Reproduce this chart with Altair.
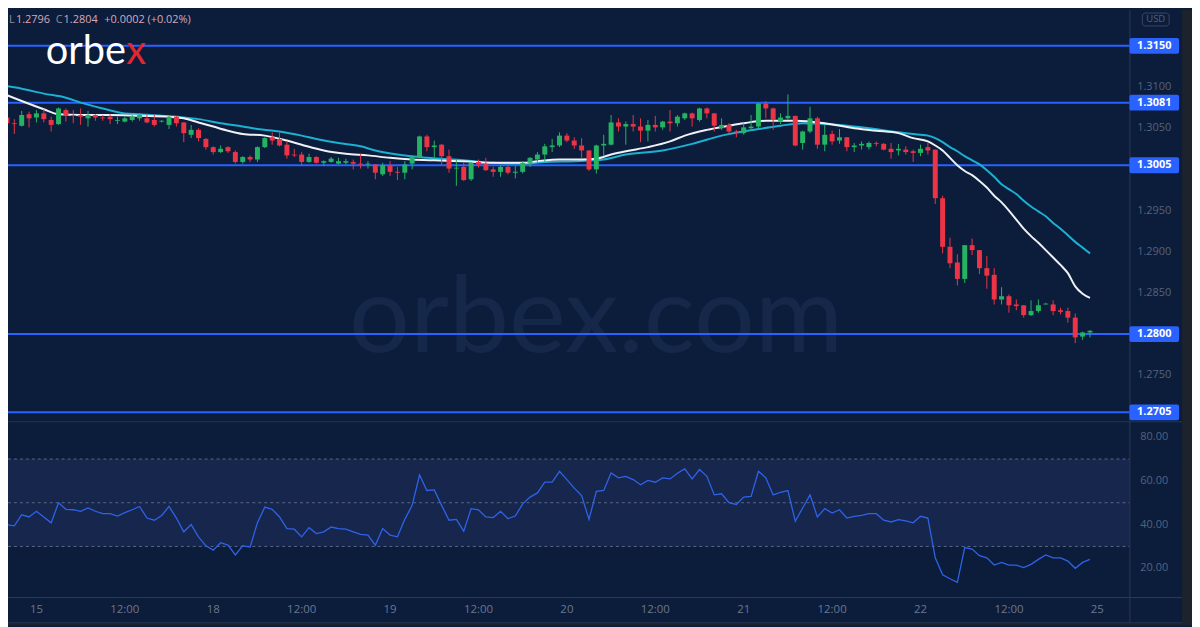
import altair as alt
import pandas as pd

# ---------------- data ----------------
opens = [1.3063, 1.3056, 1.3053, 1.3067, 1.3063, 1.3068, 1.3060, 1.3055, 1.3072, 1.3066,
         1.3066, 1.3062, 1.3066, 1.3063, 1.3064, 1.3059, 1.3058, 1.3060, 1.3062, 1.3062,
         1.3060, 1.3058, 1.3054, 1.3064, 1.3057, 1.3042, 1.3048, 1.3037, 1.3027, 1.3021,
         1.3027, 1.3021, 1.3009, 1.3015, 1.3012, 1.3027, 1.3039, 1.3037, 1.3030, 1.3018,
         1.3018, 1.3009, 1.3015, 1.3008, 1.3009, 1.3007, 1.3008, 1.3009, 1.3007, 1.3006,
         1.3006, 1.2994, 1.3005, 1.2997, 1.2996, 1.3007, 1.3015, 1.3040, 1.3027, 1.3030,
         1.3016, 1.3001, 1.3003, 1.2988, 1.3009, 1.3007, 1.3000, 1.2997, 1.3003, 1.2996,
         1.2997, 1.3008, 1.3012, 1.3018, 1.3027, 1.3029, 1.3041, 1.3035, 1.3029, 1.3023,
         1.3000, 1.3029, 1.3030, 1.3057, 1.3052, 1.3055, 1.3052, 1.3047, 1.3054, 1.3051,
         1.3058, 1.3056, 1.3062, 1.3068, 1.3060, 1.3074, 1.3068, 1.3050, 1.3054, 1.3046,
         1.3044, 1.3050, 1.3052, 1.3080, 1.3074, 1.3058, 1.3062, 1.3065, 1.3032, 1.3046,
         1.3062, 1.3030, 1.3043, 1.3035, 1.3039, 1.3027, 1.3029, 1.3027, 1.3032, 1.3031,
         1.3025, 1.3023, 1.3024, 1.3022, 1.3020, 1.3027, 1.3024, 1.2965, 1.2906, 1.2887,
         1.2867, 1.2908, 1.2902, 1.2880, 1.2872, 1.2842, 1.2846, 1.2836, 1.2835, 1.2823,
         1.2828, 1.2836, 1.2836, 1.2829, 1.2828, 1.2820, 1.2797, 1.2802]
highs = [1.3066, 1.3061, 1.3071, 1.3070, 1.3072, 1.3073, 1.3064, 1.3075, 1.3074, 1.3072,
         1.3074, 1.3071, 1.3067, 1.3066, 1.3067, 1.3064, 1.3065, 1.3066, 1.3068, 1.3068,
         1.3067, 1.3060, 1.3065, 1.3065, 1.3057, 1.3054, 1.3050, 1.3038, 1.3028, 1.3029,
         1.3028, 1.3023, 1.3016, 1.3017, 1.3028, 1.3039, 1.3045, 1.3045, 1.3034, 1.3025,
         1.3021, 1.3019, 1.3016, 1.3011, 1.3015, 1.3014, 1.3013, 1.3012, 1.3019, 1.3010,
         1.3006, 1.3008, 1.3010, 1.3003, 1.3010, 1.3017, 1.3041, 1.3042, 1.3035, 1.3031,
         1.3024, 1.3012, 1.3009, 1.3009, 1.3012, 1.3014, 1.3003, 1.3005, 1.3005, 1.3004,
         1.3010, 1.3015, 1.3021, 1.3031, 1.3037, 1.3045, 1.3044, 1.3039, 1.3038, 1.3023,
         1.3030, 1.3042, 1.3066, 1.3062, 1.3058, 1.3066, 1.3062, 1.3060, 1.3065, 1.3059,
         1.3072, 1.3066, 1.3069, 1.3069, 1.3075, 1.3075, 1.3068, 1.3062, 1.3056, 1.3048,
         1.3056, 1.3066, 1.3081, 1.3083, 1.3075, 1.3068, 1.3091, 1.3065, 1.3047, 1.3076,
         1.3064, 1.3054, 1.3047, 1.3049, 1.3039, 1.3032, 1.3034, 1.3034, 1.3034, 1.3032,
         1.3032, 1.3031, 1.3028, 1.3024, 1.3030, 1.3032, 1.3024, 1.2968, 1.2917, 1.2897,
         1.2908, 1.2916, 1.2902, 1.2895, 1.2880, 1.2857, 1.2848, 1.2842, 1.2835, 1.2841,
         1.2842, 1.2838, 1.2841, 1.2832, 1.2832, 1.2825, 1.2803, 1.2805]
lows = [1.3042, 1.3043, 1.3052, 1.3051, 1.3057, 1.3057, 1.3046, 1.3054, 1.3058, 1.3056,
        1.3054, 1.3052, 1.3059, 1.3059, 1.3055, 1.3055, 1.3057, 1.3058, 1.3059, 1.3056,
        1.3052, 1.3057, 1.3049, 1.3052, 1.3033, 1.3038, 1.3034, 1.3024, 1.3018, 1.3020,
        1.3020, 1.3007, 1.3007, 1.3009, 1.3009, 1.3026, 1.3030, 1.3028, 1.3013, 1.3015,
        1.3004, 1.3008, 1.3007, 1.3004, 1.3008, 1.3006, 1.3006, 1.3000, 1.3001, 1.3001,
        1.2988, 1.2992, 1.2992, 1.2987, 1.2988, 1.3000, 1.3014, 1.3022, 1.3013, 1.3005,
        1.2996, 1.2980, 1.2986, 1.2986, 1.3002, 1.2998, 1.2991, 1.2991, 1.2994, 1.2989,
        1.2995, 1.3003, 1.3008, 1.3009, 1.3021, 1.3027, 1.3033, 1.3025, 1.3014, 1.2998,
        1.2995, 1.3016, 1.3029, 1.3046, 1.3030, 1.3046, 1.3033, 1.3034, 1.3046, 1.3048,
        1.3046, 1.3052, 1.3060, 1.3052, 1.3058, 1.3062, 1.3046, 1.3048, 1.3044, 1.3039,
        1.3042, 1.3047, 1.3050, 1.3062, 1.3048, 1.3055, 1.3060, 1.3028, 1.3024, 1.3044,
        1.3025, 1.3022, 1.3030, 1.3031, 1.3022, 1.3021, 1.3024, 1.3024, 1.3028, 1.3023,
        1.3013, 1.3017, 1.3018, 1.3009, 1.3016, 1.3018, 1.2958, 1.2898, 1.2880, 1.2859,
        1.2862, 1.2896, 1.2873, 1.2855, 1.2836, 1.2836, 1.2826, 1.2829, 1.2820, 1.2822,
        1.2826, 1.2836, 1.2823, 1.2824, 1.2814, 1.2789, 1.2793, 1.2796]
closes = [1.3056, 1.3055, 1.3066, 1.3062, 1.3068, 1.3061, 1.3054, 1.3074, 1.3065, 1.3065,
          1.3064, 1.3066, 1.3063, 1.3062, 1.3061, 1.3060, 1.3062, 1.3064, 1.3066, 1.3057,
          1.3054, 1.3059, 1.3064, 1.3056, 1.3044, 1.3048, 1.3038, 1.3027, 1.3021, 1.3025,
          1.3022, 1.3009, 1.3015, 1.3012, 1.3027, 1.3038, 1.3035, 1.3029, 1.3017, 1.3017,
          1.3009, 1.3015, 1.3008, 1.3010, 1.3013, 1.3010, 1.3010, 1.3007, 1.3006, 1.3007,
          1.2996, 1.3005, 1.2997, 1.2996, 1.3006, 1.3015, 1.3040, 1.3027, 1.3029, 1.3016,
          1.3001, 1.3002, 1.2987, 1.3008, 1.3006, 1.2999, 1.2997, 1.3003, 1.2996, 1.2997,
          1.3008, 1.3014, 1.3018, 1.3028, 1.3029, 1.3041, 1.3035, 1.3029, 1.3023, 1.3000,
          1.3029, 1.3031, 1.3057, 1.3052, 1.3055, 1.3052, 1.3047, 1.3054, 1.3051, 1.3058,
          1.3056, 1.3064, 1.3068, 1.3062, 1.3074, 1.3068, 1.3053, 1.3054, 1.3046, 1.3045,
          1.3051, 1.3052, 1.3080, 1.3074, 1.3060, 1.3063, 1.3065, 1.3029, 1.3046, 1.3062,
          1.3030, 1.3042, 1.3034, 1.3039, 1.3027, 1.3029, 1.3031, 1.3032, 1.3031, 1.3024,
          1.3021, 1.3025, 1.3021, 1.3020, 1.3025, 1.3023, 1.2965, 1.2906, 1.2886, 1.2867,
          1.2908, 1.2902, 1.2880, 1.2871, 1.2842, 1.2846, 1.2835, 1.2834, 1.2823, 1.2828,
          1.2835, 1.2837, 1.2828, 1.2827, 1.2820, 1.2796, 1.2802, 1.2804]

rsi = [40.0, 39.4, 44.5, 43.5, 46.1, 43.5, 40.8, 50.0, 47.0, 46.8,
       46.1, 47.6, 46.1, 45.0, 45.0, 43.9, 45.5, 46.8, 48.3, 43.0,
       42.0, 44.2, 48.3, 43.0, 36.7, 40.0, 34.4, 30.3, 28.3, 31.7,
       30.6, 26.1, 30.3, 29.7, 40.9, 48.0, 47.0, 43.5, 38.2, 37.9,
       34.4, 38.6, 35.9, 36.7, 38.9, 38.2, 37.9, 36.7, 35.5, 35.2,
       30.6, 38.2, 35.2, 34.4, 42.4, 48.8, 62.7, 55.6, 55.9, 48.8,
       42.0, 42.4, 37.0, 47.3, 46.8, 43.5, 43.2, 46.1, 42.7, 43.9,
       49.5, 52.6, 54.5, 59.4, 59.4, 64.4, 60.6, 56.7, 53.3, 42.4,
       55.2, 55.6, 63.6, 61.4, 62.1, 60.6, 58.2, 60.2, 59.4, 61.4,
       60.9, 63.5, 65.5, 60.9, 65.2, 62.1, 53.6, 54.1, 50.0, 49.2,
       52.6, 52.9, 64.4, 61.4, 53.6, 54.8, 55.6, 41.5, 47.6, 53.6,
       43.5, 47.3, 45.3, 46.8, 43.0, 43.8, 44.2, 45.0, 45.0, 42.0,
       41.2, 42.3, 41.7, 40.8, 43.8, 43.0, 24.8, 17.0, 15.2, 13.6,
       29.5, 28.8, 25.8, 24.8, 21.5, 22.7, 21.5, 21.5, 20.3, 21.8,
       24.1, 26.1, 24.8, 24.8, 23.3, 20.0, 22.7, 24.1]

white_idx = [0, 2, 5, 7, 10, 14, 18, 22, 24, 26, 28, 30, 32, 35, 38, 40, 43, 46, 49, 52,
             55, 58, 62, 66, 70, 72, 75, 78, 80, 82, 84, 87, 90, 92, 95, 98, 100, 103, 107, 111,
             115, 118, 121, 123, 125, 126, 127, 128, 129, 130, 131, 132, 133, 134, 135, 136,
             137, 138, 139, 140, 141, 142, 143, 144, 145, 146, 147]
white_val = [1.3090, 1.3083, 1.3073, 1.3067, 1.3066, 1.3066, 1.3065, 1.3064, 1.3062, 1.3057,
             1.3052, 1.3047, 1.3043, 1.3041, 1.3035, 1.3030, 1.3023, 1.3019, 1.3017, 1.3014,
             1.3012, 1.3011, 1.3010, 1.3008, 1.3008, 1.3010, 1.3012, 1.3012, 1.3013, 1.3018,
             1.3022, 1.3027, 1.3034, 1.3041, 1.3048, 1.3053, 1.3056, 1.3059, 1.3059, 1.3056,
             1.3050, 1.3047, 1.3044, 1.3038, 1.3034, 1.3029, 1.3023, 1.3014, 1.3005, 1.2998,
             1.2993, 1.2986, 1.2978, 1.2968, 1.2960, 1.2950, 1.2939, 1.2928, 1.2919, 1.2911,
             1.2902, 1.2893, 1.2884, 1.2874, 1.2858, 1.2849, 1.2844]
cyan_idx = [0, 2, 5, 8, 10, 13, 16, 18, 21, 24, 26, 29, 32, 34, 37, 40, 42, 45, 48, 50,
            53, 57, 62, 66, 70, 73, 77, 81, 84, 89, 93, 97, 102, 105, 108, 113, 117, 121, 124, 125,
            126, 127, 128, 129, 130, 131, 132, 133, 134, 135, 136, 137, 138, 139, 140, 141,
            142, 143, 144, 145, 146, 147]
cyan_val = [1.3101, 1.3098, 1.3092, 1.3087, 1.3081, 1.3074, 1.3068, 1.3067, 1.3065, 1.3063,
            1.3061, 1.3056, 1.3052, 1.3049, 1.3046, 1.3041, 1.3037, 1.3032, 1.3028, 1.3023,
            1.3018, 1.3014, 1.3011, 1.3008, 1.3007, 1.3009, 1.3010, 1.3012, 1.3018, 1.3023,
            1.3031, 1.3041, 1.3049, 1.3053, 1.3056, 1.3054, 1.3050, 1.3045, 1.3042, 1.3041,
            1.3038, 1.3033, 1.3027, 1.3022, 1.3016, 1.3011, 1.3006, 1.2999, 1.2991, 1.2982,
            1.2976, 1.2970, 1.2962, 1.2955, 1.2949, 1.2943, 1.2935, 1.2928, 1.2920, 1.2912,
            1.2905, 1.2898]

levels = [1.3150, 1.3081, 1.3005, 1.2800, 1.2705]
price_ticks = [1.3100, 1.3050, 1.2950, 1.2900, 1.2850, 1.2750]
rsi_ticks = [80, 60, 40, 20]
rsi_guides = [70, 50, 30]
time_pos = [4, 16, 28, 40, 52, 64, 76, 88, 100, 112, 124, 136, 148]
time_labels = ["15", "12:00", "18", "12:00", "19", "12:00", "20", "12:00",
               "21", "12:00", "22", "12:00", "25"]

# ---------------- style ----------------
W, H = 1192, 619
BG = "#0b1d3a"
BAND = "#16264d"
GREEN = "#25b262"
RED = "#ec3446"
BLUE = "#2962ff"
AX = "#55627e"
AX2 = "#6c7790"
LINE = "#26354f"
FONT = "Open Sans"
PLOT_R = 1129

XS = alt.Scale(domain=[0.8155, 160.174], range=[0, W], nice=False, zero=False)
PS = alt.Scale(domain=[1.2705, 1.3150], range=[405, 36], nice=False, zero=False)
RS = alt.Scale(domain=[20, 80], range=[562, 430], nice=False, zero=False)


def X(f="i"):
    return alt.X(f"{f}:Q", scale=XS, axis=None)


def YP(f):
    return alt.Y(f"{f}:Q", scale=PS, axis=None)


def YR(f):
    return alt.Y(f"{f}:Q", scale=RS, axis=None)


one = pd.DataFrame({"k": [0]})


def box(x1, x2, y1, y2, **kw):
    return alt.Chart(one).mark_rect(**kw).encode(
        x=alt.value(x1), x2=alt.value(x2), y=alt.value(y1), y2=alt.value(y2))


def hline(y, x1, x2, color, w=1):
    return alt.Chart(one).mark_rule(color=color, strokeWidth=w).encode(
        x=alt.value(x1), x2=alt.value(x2), y=alt.value(y))


def vline(x, y1, y2, color, w=1):
    return alt.Chart(one).mark_rule(color=color, strokeWidth=w).encode(
        x=alt.value(x), y=alt.value(y1), y2=alt.value(y2))


def label(txt, x, y, color, size, align="left", weight="normal", font=FONT, baseline="middle"):
    return alt.Chart(one).mark_text(
        text=txt, color=color, fontSize=size, align=align, fontWeight=weight,
        font=font, baseline=baseline).encode(x=alt.value(x), y=alt.value(y))


# ---------------- layers ----------------
n = len(closes)
cdf = pd.DataFrame({"i": list(range(n)), "o": opens, "h": highs, "l": lows, "c": closes})
cdf["dir"] = ["up" if c >= o else "down" for o, c in zip(opens, closes)]
ccol = alt.Color("dir:N", scale=alt.Scale(domain=["up", "down"], range=[GREEN, RED]), legend=None)

band = alt.Chart(pd.DataFrame({"a": [70], "b": [30]})).mark_rect(color=BAND).encode(
    x=alt.value(0), x2=alt.value(PLOT_R), y=YR("a"), y2="b")
guides = alt.Chart(pd.DataFrame({"v": rsi_guides})).mark_rule(
    color="#5a6682", strokeDash=[3, 3], strokeWidth=1).encode(
    x=alt.value(0), x2=alt.value(PLOT_R), y=YR("v"))

watermark = label("orbex.com", 592, 344, "#15284a", 108, align="center",
                  weight="normal", font="Lato", baseline="alphabetic")

sdf = pd.DataFrame({"p": levels, "t": [f"{v:.4f}" for v in levels]})
support = alt.Chart(sdf).mark_rule(color=BLUE, strokeWidth=2).encode(
    x=alt.value(0), x2=alt.value(PLOT_R + 2), y=YP("p"))

wline = alt.Chart(pd.DataFrame({"i": white_idx, "v": white_val})).mark_line(
    color="#eef1f6", strokeWidth=2, interpolate="monotone").encode(x=X(), y=YP("v"))
cline = alt.Chart(pd.DataFrame({"i": cyan_idx, "v": cyan_val})).mark_line(
    color="#1cb0d3", strokeWidth=2, interpolate="monotone").encode(x=X(), y=YP("v"))

wicks = alt.Chart(cdf).mark_rule(strokeWidth=1).encode(x=X(), y=YP("l"), y2="h", color=ccol)
bodies = alt.Chart(cdf).mark_bar(size=5, stroke=None).encode(x=X(), y=YP("o"), y2="c", color=ccol)

rsi_line = alt.Chart(pd.DataFrame({"i": list(range(n)), "v": rsi})).mark_line(
    color="#2e63e8", strokeWidth=1.3).encode(x=X(), y=YR("v"))

ptdf = pd.DataFrame({"p": price_ticks, "t": [f"{v:.4f}" for v in price_ticks]})
plabels = alt.Chart(ptdf).mark_text(color=AX, fontSize=11, font=FONT).encode(
    x=alt.value(1154), y=YP("p"), text="t:N")
boxes = alt.Chart(sdf).mark_tick(orient="horizontal", size=50, thickness=16, color=BLUE,
                                 opacity=1, cornerRadius=2).encode(x=alt.value(1154), y=YP("p"))
box_text = alt.Chart(sdf).mark_text(color="white", fontSize=11, fontWeight="bold", font=FONT).encode(
    x=alt.value(1154), y=YP("p"), text="t:N")

rtdf = pd.DataFrame({"v": rsi_ticks, "t": [f"{v:.2f}" for v in rsi_ticks]})
rlabels = alt.Chart(rtdf).mark_text(color=AX, fontSize=11, font=FONT).encode(
    x=alt.value(1154), y=YR("v"), text="t:N")

tlabels = alt.Chart(pd.DataFrame({"i": time_pos, "t": time_labels})).mark_text(
    color=AX2, fontSize=11.5, font=FONT).encode(x=X(), y=alt.value(604), text="t:N")

HY = 10.5
layers = [
    band, guides, watermark, support, cline, wline, wicks, bodies, rsi_line,
    hline(414.5, 0, 1182, LINE), hline(591.5, 0, 1182, "#2f3b55"), hline(617, 0, 1182, "#2f3b55"),
    vline(1129.5, 0, 617, "#2a3854"),
    box(1182, W, 0, H, color="#1e222d"), box(0, W, 617.5, H, color="#1e222d"),
    plabels, rlabels, tlabels, boxes, box_text,
    box(1142, 1169, 3, 16, fill=BG, stroke="#3a4660", strokeWidth=1, cornerRadius=3),
    label("USD", 1155.5, 9.5, AX, 9.5, align="center"),
    label("L", 1, HY, "#8b8f9c", 11),
    label("1.2796", 8, HY, "#d8a8ba", 11),
    label("C", 48, HY, "#8b8f9c", 11),
    label("1.2804", 56, HY, "#d8a8ba", 11),
    label("+0.0002 (+0.02%)", 97, HY, "#d8a8ba", 11),
    label("orbe", 38, 54.7, "#ffffff", 40, font="Lato", baseline="alphabetic"),
    label("x", 119, 54.7, "#e3262f", 40, font="Lato", baseline="alphabetic"),
]

chart = alt.layer(*layers).resolve_scale(y="independent").properties(
    width=W, height=H, padding=0, background=BG,
    autosize=alt.AutoSizeParams(type="none"),
).configure_view(stroke=None)

chart.save("out.html", embed_options={"renderer": "svg", "actions": False})
